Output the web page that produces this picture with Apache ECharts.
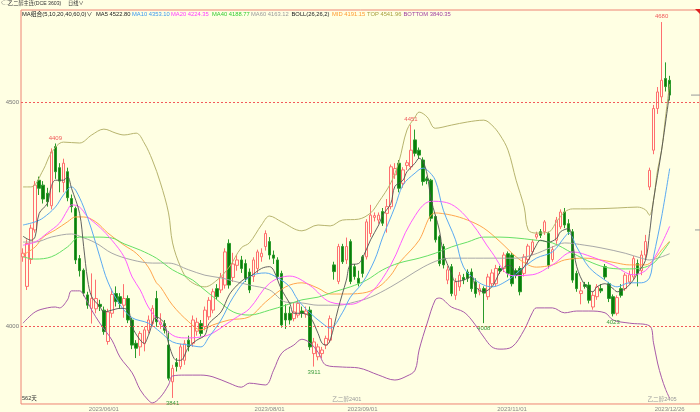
<!DOCTYPE html>
<html><head><meta charset="utf-8">
<script src="https://cdn.jsdelivr.net/npm/echarts@6/dist/echarts.min.js"></script>
<style>html,body{margin:0;padding:0;background:#FFFFE3;overflow:hidden}#c{width:700px;height:412px;}</style>
</head><body><div id="c"></div><script>
// trading days (categories)
const monthDays = [
 ['2023/05',[4,5,8,9,10,11,12,15,16,17,18,19,22,23,24,25,26,29,30,31]],
 ['2023/06',[1,2,5,6,7,8,9,12,13,14,15,16,19,20,21,26,27,28,29,30]],
 ['2023/07',[3,4,5,6,7,10,11,12,13,14,17,18,19,20,21,24,25,26,27,28,31]],
 ['2023/08',[1,2,3,4,7,8,9,10,11,14,15,16,17,18,21,22,23,24,25,28,29,30,31]],
 ['2023/09',[1,4,5,6,7,8,11,12,13,14,15,18,19,20,21,22,25,26,27,28]],
 ['2023/10',[9,10,11,12,13,16,17,18,19,20,23,24,25,26,27,30,31]],
 ['2023/11',[1,2,3,6,7,8,9,10,13,14,15,16,17,20,21,22,23,24,27,28,29,30]],
 ['2023/12',[1,4,5,6,7,8,11,12,13,14,15,18,19,20,21,22,25,26]]
];
const futureDays = ['2023/12/27','2023/12/28','2023/12/29','2024/01/02','2024/01/03','2024/01/04','2024/01/05'];
const shownDates = ['2023/06/01','2023/08/01','2023/09/01','2023/11/01','2023/12/26'];

// [open, close, low, high]
const candles = [
[4156,4164,4145,4175],[4090,4186,4082,4195],[4150,4220,4140,4228],[4216,4316,4210,4325],[4327,4309,4294,4335],
[4316,4285,4275,4325],[4298,4279,4268,4310],[4270,4390,4262,4398],[4402,4346,4330,4409],[4355,4325,4300,4365],
[4322,4365,4300,4375],[4346,4288,4280,4355],[4286,4268,4255,4295],[4264,4149,4140,4268],[4152,4125,4112,4160],
[4126,4075,4068,4130],[4071,4048,4040,4078],[4041,4063,4007,4119],[4040,4063,4030,4105],[4050,4045,4035,4060],
[4037,3989,3982,4045],[3967,4033,3960,4040],[4030,4072,4020,4085],[4074,4056,4045,4090],[4067,4052,4040,4075],
[4048,4063,4020,4095],[4063,4015,4008,4070],[4015,3959,3950,4020],[3963,3952,3930,3970],[3955,3985,3935,3990],
[3962,3993,3945,4000],[3992,4015,3985,4025],[4007,4041,4000,4048],[4063,4011,4000,4080],[4005,4010,3995,4030],
[4007,3992,3985,4015],[3959,3885,3880,3990],[3877,3907,3841,3915],[3920,3911,3900,3930],[3911,3955,3905,3962],
[3925,3962,3915,3970],[3970,3955,3945,3980],[3963,4015,3955,4025],[3990,4010,3980,4020],[4007,3985,3978,4015],
[4000,4037,3992,4045],[4022,4059,4015,4066],[4037,4078,4030,4085],[4085,4067,4060,4095],[4082,4111,4075,4120],
[4093,4167,4085,4175],[4186,4093,4085,4195],[4110,4140,4100,4165],[4137,4149,4125,4160],[4149,4130,4120,4158],
[4141,4108,4100,4150],[4122,4082,4075,4130],[4112,4149,4100,4155],[4130,4167,4120,4172],[4156,4164,4145,4175],
[4179,4208,4170,4215],[4190,4160,4150,4200],[4160,4153,4140,4170],[4149,4112,4105,4155],[4119,4004,3998,4125],
[4030,4015,3995,4050],[4030,4015,4005,4045],[4018,4033,4012,4055],[4026,4052,4020,4060],[4035,4030,4020,4045],
[4028,4035,4020,4045],[4037,3955,3948,4045],[3940,3966,3911,3975],[3933,3955,3925,3962],[3940,3948,3930,3955],
[3959,3974,3950,3980],[3970,4018,3965,4025],[4138,4123,4105,4145],[4101,4179,4095,4185],[4179,4145,4140,4185],
[4149,4179,4140,4199],[4190,4101,4095,4195],[4134,4112,4105,4140],[4108,4097,4090,4125],[4156,4119,4110,4160],
[4156,4234,4150,4240],[4208,4249,4200,4272],[4244,4248,4235,4255],[4238,4249,4230,4255],[4257,4231,4225,4265],
[4253,4268,4210,4285],[4268,4357,4262,4362],[4339,4353,4330,4365],[4365,4309,4300,4372],[4320,4350,4310,4356],
[4360,4366,4350,4372],[4357,4394,4350,4451],[4417,4387,4380,4440],[4394,4383,4375,4400],[4372,4324,4315,4378],
[4330,4326,4318,4335],[4327,4242,4235,4330],[4246,4194,4188,4250],[4201,4141,4135,4205],[4179,4138,4130,4185],
[4104,4127,4095,4135],[4134,4074,4068,4140],[4070,4100,4060,4108],[4089,4115,4080,4122],[4110,4105,4095,4118],
[4122,4108,4100,4128],[4122,4085,4078,4130],[4100,4074,4065,4108],[4078,4085,4070,4095],[4085,4075,4008,4090],
[4067,4111,4060,4118],[4096,4120,4090,4128],[4096,4130,4090,4138],[4130,4125,4118,4136],[4130,4160,4122,4166],
[4163,4119,4110,4168],[4160,4096,4090,4165],[4125,4115,4108,4130],[4130,4078,4070,4135],[4119,4156,4112,4162],
[4150,4180,4140,4185],[4167,4189,4160,4195],[4200,4206,4195,4212],[4212,4204,4198,4218],[4212,4234,4205,4238],
[4208,4137,4130,4212],[4150,4172,4145,4180],[4193,4238,4185,4245],[4223,4256,4218,4262],[4256,4227,4220,4265],
[4230,4212,4205,4240],[4212,4104,4098,4218],[4119,4085,4078,4125],[4074,4080,4050,4100],[4094,4090,4085,4100],
[4093,4059,4052,4100],[4044,4070,4038,4078],[4067,4089,4060,4095],[4085,4080,4075,4095],[4134,4111,4105,4140],
[4096,4063,4055,4100],[4067,4029,4023,4072],[4030,4065,4025,4070],[4085,4070,4065,4095],[4085,4115,4080,4120],
[4100,4116,4095,4125],[4111,4152,4105,4158],[4141,4119,4090,4150],[4125,4160,4115,4170],[4160,4190,4150,4205],
[4312,4349,4305,4355],[4394,4487,4385,4495],[4487,4524,4475,4535],[4513,4550,4500,4680],[4554,4536,4525,4590],
[4550,4517,4505,4560]
];

// indicator lines, [barIndex, value]
const ma5 = [[0,4202],[2,4193],[3,4201],[4,4253],[6,4275],[7,4313],[8,4327],[10,4327],[11,4335],[12,4309],[14,4253],[15,4179],[16,4104],[17,4067],[19,4045],[20,4033],[22,4037],[24,4041],[26,4037],[27,4000],[29,3970],[30,3963],[31,3980],[33,4022],[35,4007],[36,3963],[38,3925],[39,3925],[41,3955],[43,3970],[45,3981],[46,4007],[49,4033],[51,4071],[53,4093],[55,4108],[56,4111],[59,4130],[61,4134],[62,4126],[64,4082],[66,4052],[67,4030],[69,4030],[71,4022],[73,3985],[74,3963],[75,3959],[76,3970],[78,4041],[80,4104],[81,4138],[83,4141],[84,4153],[86,4194],[88,4227],[89,4249],[91,4275],[92,4313],[94,4327],[95,4346],[97,4365],[98,4376],[99,4368],[100,4339],[101,4283],[103,4216],[104,4164],[106,4119],[107,4101],[109,4104],[111,4112],[112,4089],[114,4078],[116,4089],[117,4104],[118,4122],[120,4137],[121,4134],[122,4115],[123,4122],[125,4148],[127,4182],[128,4193],[130,4189],[132,4197],[133,4212],[135,4219],[136,4186],[137,4134],[139,4093],[141,4078],[142,4089],[144,4096],[146,4085],[147,4078],[149,4085],[151,4104],[152,4119],[154,4148],[155,4208],[156,4282],[158,4394],[160,4523]];
const ma10 = [[0,4227],[3,4234],[5,4243],[8,4267],[10,4294],[12,4312],[13,4305],[15,4267],[17,4216],[19,4156],[21,4100],[24,4049],[27,4020],[31,4008],[34,3988],[37,3966],[41,3959],[44,3955],[46,3977],[49,4015],[52,4066],[56,4111],[60,4120],[63,4109],[66,4089],[68,4060],[71,4031],[74,4008],[76,3997],[79,4031],[81,4066],[84,4098],[87,4149],[89,4200],[92,4267],[94,4316],[97,4343],[99,4354],[100,4350],[102,4327],[104,4260],[107,4194],[109,4133],[112,4104],[114,4093],[116,4089],[120,4104],[123,4126],[127,4153],[131,4167],[134,4200],[135,4209],[137,4178],[140,4133],[144,4104],[147,4089],[150,4098],[153,4098],[155,4109],[156,4156],[158,4245],[160,4353]];
const ma20 = [[0,4182],[3,4189],[6,4209],[9,4231],[11,4260],[12,4272],[14,4267],[16,4245],[19,4222],[22,4193],[25,4156],[27,4111],[29,4082],[31,4044],[34,4008],[37,3981],[40,3975],[44,3977],[47,3986],[50,4004],[53,4022],[56,4040],[61,4097],[66,4113],[71,4092],[76,4055],[81,4050],[86,4075],[91,4138],[96,4233],[101,4280],[106,4273],[111,4231],[116,4166],[121,4114],[126,4116],[131,4138],[136,4167],[141,4155],[146,4137],[151,4116],[154,4125],[156,4150],[158,4185],[160,4224]];
const ma40 = [[0,4156],[3,4151],[7,4156],[11,4178],[14,4200],[18,4200],[22,4198],[25,4185],[29,4171],[33,4153],[37,4127],[42,4104],[44,4089],[48,4060],[52,4033],[56,4026],[61,4037],[65,4048],[69,4060],[73,4066],[77,4078],[81,4089],[85,4104],[89,4127],[93,4142],[98,4153],[102,4164],[106,4178],[110,4189],[114,4200],[118,4200],[122,4198],[126,4194],[131,4187],[136,4164],[141,4142],[145,4131],[149,4129],[153,4131],[156,4142],[158,4164],[160,4189]];
const ma60 = [[0,4189],[3,4189],[7,4200],[12,4207],[14,4202],[18,4187],[22,4164],[27,4149],[32,4142],[36,4142],[41,4127],[45,4115],[49,4109],[52,4102],[56,4093],[61,4082],[65,4055],[69,4053],[73,4048],[78,4048],[82,4055],[86,4066],[91,4089],[95,4111],[99,4133],[103,4149],[106,4153],[114,4153],[122,4153],[126,4160],[131,4178],[134,4187],[139,4182],[143,4176],[149,4164],[153,4153],[155,4149],[158,4156],[160,4163]];
const bollMid = [[0,4160],[3,4178],[5,4200],[8,4216],[11,4234],[13,4245],[15,4245],[18,4234],[21,4209],[25,4182],[28,4164],[31,4133],[33,4098],[34,4089],[37,4048],[41,4011],[44,3993],[47,4004],[51,4015],[56,4022],[60,4055],[65,4089],[69,4098],[73,4086],[76,4073],[79,4073],[84,4075],[88,4089],[91,4115],[93,4142],[96,4171],[98,4193],[102,4254],[106,4249],[110,4238],[114,4220],[118,4190],[122,4156],[125,4138],[127,4133],[131,4138],[134,4149],[139,4153],[143,4149],[147,4142],[150,4138],[154,4138],[156,4149],[158,4171],[160,4191]];
const bollTop = [[0,4312],[2,4312],[5,4350],[7,4388],[10,4412],[14,4410],[17,4428],[20,4441],[23,4432],[25,4428],[28,4432],[30,4410],[32,4372],[34,4321],[36,4254],[37,4187],[39,4133],[41,4104],[45,4089],[48,4104],[51,4133],[54,4176],[56,4187],[59,4227],[61,4247],[64,4234],[69,4214],[73,4227],[76,4225],[79,4238],[83,4240],[86,4254],[88,4278],[91,4321],[93,4368],[95,4439],[97,4468],[98,4479],[100,4468],[102,4443],[106,4450],[110,4457],[114,4461],[116,4450],[118,4428],[120,4394],[122,4327],[124,4267],[125,4216],[127,4209],[130,4211],[132,4234],[134,4256],[136,4263],[140,4263],[147,4265],[152,4267],[154,4261],[155,4249],[156,4283],[157,4350],[158,4394],[159,4470],[160,4542]];
const bollBot = [[0,4008],[3,4033],[6,4042],[8,4044],[9,4042],[11,4060],[12,4080],[14,4080],[15,4071],[17,4037],[19,4008],[22,3970],[24,3932],[27,3897],[29,3859],[31,3836],[32,3830],[34,3843],[36,3870],[37,3890],[40,3892],[44,3892],[47,3888],[51,3874],[54,3865],[56,3874],[60,3870],[62,3903],[64,3941],[67,3959],[69,3972],[71,3964],[73,3943],[75,3914],[79,3910],[83,3908],[88,3892],[92,3881],[95,3890],[97,3903],[98,3948],[100,4008],[102,4060],[103,4064],[106,4044],[109,4033],[111,4015],[114,3977],[116,3955],[118,3950],[121,3955],[124,3993],[126,4031],[127,4042],[131,4042],[134,4031],[137,4035],[140,4035],[144,4031],[146,4015],[150,4008],[155,4002],[156,3964],[157,3919],[158,3886],[159,3860],[160,3840]];

// annotated extremes
const highMarks = [[8,4409],[96,4451],[158,4680]];
const lowMarks = [[37,3841],[72,3911],[114,4008],[146,4023]];
const refLevels = [4500,4000];
const rollMarks = [[77,'乙二醇2401'],[155,'乙二醇2405']];
const edgeTicks = [4517,4216];

const legendItems = [
 ['MA组合(5,10,20,40,60,0)∨','#222',22],
 ['MA5 4522.80','#222',96],
 ['MA10 4353.10','#3b97ee',132],
 ['MA20 4224.35','#ff3cff',171],
 ['MA40 4188.77','#33cc33',212],
 ['MA60 4163.12','#9a9a9a',251],
 ['BOLL(26,26,2)','#222',291.5],
 ['MID 4191.15','#ff9a2e',332],
 ['TOP 4541.96','#a8a040',367],
 ['BOTTOM 3840.35','#a040a0',403.5]
];

const categories = [];
monthDays.forEach(([m, ds]) => ds.forEach(d => categories.push(m + '/' + String(d).padStart(2,'0'))));
futureDays.forEach(d => categories.push(d));

const FONT = '"Liberation Sans","Noto Sans CJK SC",sans-serif';
const chart = echarts.init(document.getElementById('c'), null, {renderer:'canvas'});

function lineSeries(name, data, color, z, w){
  return {name, type:'line', data, smooth:0.35, showSymbol:false, symbol:'none', silent:true,
    lineStyle:{color, width:w||1}, z: z||3, animation:false};
}

const option = {
  animation:false,
  backgroundColor:'#FFFFE3',
  textStyle:{fontFamily:FONT},
  grid:{left:21, right:-1, top:10, bottom:8, show:true, borderColor:'#EE8474', borderWidth:1, backgroundColor:'transparent'},
  xAxis:{type:'category', data:categories, boundaryGap:true,
    axisLine:{show:false}, axisTick:{show:false}, splitLine:{show:false},
    axisLabel:{interval:(i,v)=>shownDates.includes(v), fontSize:6, color:'#8a8a8a', margin:2, fontFamily:FONT}},
  yAxis:{type:'value', min:3827.5, max:4706.9, scale:true, axisLine:{show:false}, axisTick:{show:false},
    axisLabel:{show:false}, splitLine:{show:false}},
  series:[
    {name:'K', type:'candlestick', data:candles, barWidth:3, z:2,
     itemStyle:{color:'transparent', color0:'#0a7d0a', borderColor:'#ff6f6f', borderColor0:'#2a9a2a', borderWidth:1},
     markLine:{silent:true, symbol:'none', animation:false,
       lineStyle:{type:[2,2], color:'#f25a5a', width:1},
       label:{position:'start', formatter:p=>String(p.value), fontSize:6, color:'#777', distance:2, fontFamily:FONT},
       data: refLevels.map(v=>({yAxis:v}))},
     markPoint:{silent:true, animation:false, symbol:'rect', symbolSize:[1,1], itemStyle:{color:'transparent'},
       data: highMarks.map(([i,v])=>({coord:[i,v], value:v, label:{show:true, position:'top', distance:2, color:'#f05a5a', fontSize:6, fontFamily:FONT, formatter:String(v)}}))
        .concat(lowMarks.map(([i,v])=>({coord:[i,v], value:v, label:{show:true, position:'bottom', distance:2, color:'#3c9c3c', fontSize:6, fontFamily:FONT, formatter:String(v)}})))
     }
    },
    lineSeries('TOP', bollTop, '#b7b46e'),
    lineSeries('BOTTOM', bollBot, '#a85aa8'),
    lineSeries('MID', bollMid, '#ffa64d'),
    lineSeries('MA60', ma60, '#a8a8a8'),
    lineSeries('MA40', ma40, '#66e066'),
    lineSeries('MA20', ma20, '#ff5cff'),
    lineSeries('MA10', ma10, '#5aaaf2'),
    lineSeries('MA5', ma5, '#505050', 4, 0.9)
  ]
};
chart.setOption(option);

// header & legend text, roll labels
const g = [];
g.push({type:'text', left:1, top:0, style:{text:'⊂⊃', fontSize:5, fill:'#555', fontFamily:FONT}});
g.push({type:'text', left:8, top:0.5, style:{text:'乙二醇主连(DCE 3603)', fontSize:5.2, fill:'#333', fontFamily:FONT}});
g.push({type:'text', left:68, top:0.5, style:{text:'日线∨', fontSize:5.2, fill:'#333', fontFamily:FONT}});
legendItems.forEach(([t,c,x])=>g.push({type:'text', left:x, top:11, style:{text:t, fontSize:5.8, fill:c, fontFamily:FONT}}));
g.push({type:'text', left:22, top:396, style:{text:'562天', fontSize:5.6, fill:'#333', fontFamily:FONT}});
rollMarks.forEach(([i,t])=>{
  const x = chart.convertToPixel({xAxisIndex:0}, i) - 2;
  g.push({type:'text', left:x, top:397, style:{text:t, fontSize:5.6, fill:'#999', fontFamily:FONT}});
});
// right edge ticks
edgeTicks.forEach((v,k)=>{
  const y = chart.convertToPixel({yAxisIndex:0}, v);
  g.push({type:'line', shape:{x1:k?695:691, y1:y, x2:700, y2:y}, style:{stroke:'#999', lineWidth:1}});
});
g.push({type:'polygon', shape:{points:[[695,9],[700,9],[700,14]]}, style:{fill:'#e02020'}});
chart.setOption({graphic:g});
</script></body></html>
